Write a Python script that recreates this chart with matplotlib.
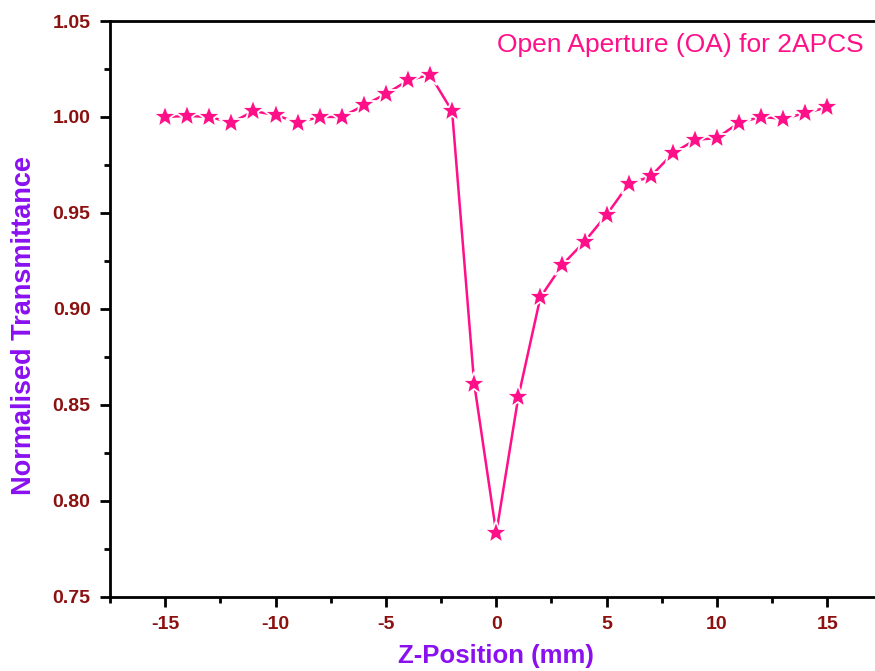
import matplotlib
matplotlib.use("Agg")
import matplotlib.pyplot as plt
from matplotlib.ticker import MultipleLocator

z_mm = [-15, -14, -13, -12, -11, -10, -9, -8, -7, -6, -5, -4, -3, -2, -1,
        0, 1, 2, 3, 4, 5, 6, 7, 8, 9, 10, 11, 12, 13, 14, 15]
transmittance = [1.000, 1.0005, 1.000, 0.997, 1.003, 1.001, 0.997, 1.000, 1.000,
                 1.006, 1.012, 1.019, 1.022, 1.003, 0.861, 0.783, 0.854, 0.906,
                 0.923, 0.935, 0.949, 0.965, 0.969, 0.981, 0.988, 0.989, 0.997,
                 1.000, 0.999, 1.002, 1.005]
x_ticks = [-15, -10, -5, 0, 5, 10, 15]
y_ticks = [0.75, 0.80, 0.85, 0.90, 0.95, 1.00, 1.05]

plt.rcParams['font.family'] = ['Liberation Sans', 'DejaVu Sans']

W, H = 875, 671
fig = plt.figure(figsize=(W / 100, H / 100), dpi=100)
left, right, top, bottom = 110, 882.5, 21, 596.5
ax = fig.add_axes([left / W, 1 - bottom / H, (right - left) / W, (bottom - top) / H])

pink = '#FF1088'
ax.plot(z_mm, transmittance, color=pink, lw=1.8, marker='*', markersize=18,
        markerfacecolor=pink, markeredgecolor='white', markeredgewidth=1.3)

ax.set_xlim(-17.5, 17.5)
ax.set_ylim(0.75, 1.05)
ax.set_xticks(x_ticks)
ax.set_yticks(y_ticks)
ax.set_xticklabels([str(v) for v in x_ticks])
ax.set_yticklabels([f"{v:.2f}" for v in y_ticks])
ax.xaxis.set_minor_locator(MultipleLocator(2.5))
ax.yaxis.set_minor_locator(MultipleLocator(0.025))

tick_col = '#8B1010'
ax.tick_params(which='major', direction='out', length=7, width=2, labelsize=14,
               labelcolor=tick_col, pad=7)
ax.tick_params(which='minor', direction='out', length=4, width=2)
for lab in ax.get_xticklabels() + ax.get_yticklabels():
    lab.set_fontweight('bold')

for s in ['left', 'bottom', 'top']:
    ax.spines[s].set_linewidth(2)
ax.spines['right'].set_visible(False)

ax.set_xlabel('Z-Position (mm)', fontsize=18.5, fontweight='bold', color='#8A10F0', labelpad=8)
ax.set_ylabel('Normalised Transmittance', fontsize=19.5, fontweight='bold', color='#8A10F0', labelpad=10)
ax.yaxis.set_label_coords(-0.094, 0.47)
ax.yaxis.label.set_horizontalalignment('center')

fig.text(497 / W, 1 - 45 / H, 'Open Aperture (OA) for 2APCS', fontsize=19,
         color=pink, ha='left', va='center')

fig.savefig('out.png', dpi=100)
